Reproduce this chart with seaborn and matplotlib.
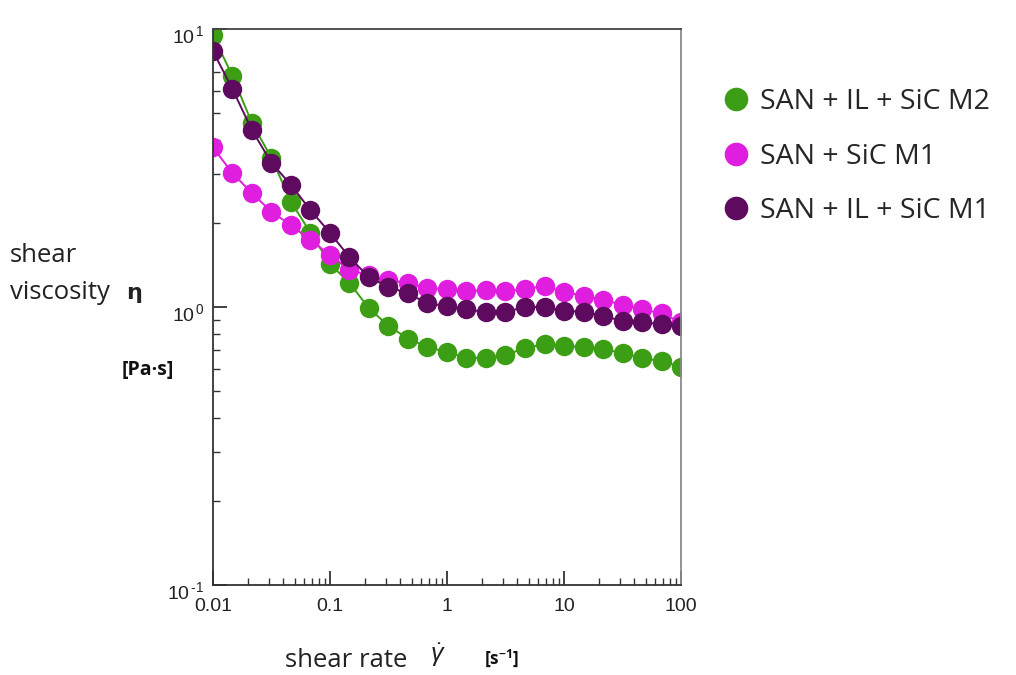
import numpy as np
import pandas as pd
import matplotlib
matplotlib.use("Agg")
import matplotlib.pyplot as plt
import matplotlib.transforms as mtransforms
import seaborn as sns
from matplotlib.lines import Line2D
from matplotlib.ticker import LogLocator, FixedLocator, FixedFormatter, NullFormatter

# ---- data ----
shear_rate = [10 ** (-2 + i / 6) for i in range(25)]

san_il_sic_m2 = [9.5, 6.78, 4.59, 3.44, 2.39, 1.85, 1.43, 1.22, 0.99, 0.855,
                 0.77, 0.718, 0.689, 0.656, 0.656, 0.672, 0.712, 0.736, 0.724,
                 0.718, 0.706, 0.683, 0.656, 0.639, 0.609]
san_sic_m1 = [3.75, 3.03, 2.57, 2.20, 1.97, 1.74, 1.54, 1.36, 1.30, 1.25,
              1.22, 1.17, 1.16, 1.14, 1.15, 1.14, 1.16, 1.19, 1.13, 1.10,
              1.06, 1.02, 0.98, 0.95, 0.88]
san_il_sic_m1 = [8.33, 6.08, 4.33, 3.30, 2.75, 2.23, 1.85, 1.51, 1.28, 1.18,
                 1.12, 1.03, 1.01, 0.98, 0.96, 0.96, 1.0, 1.0, 0.97, 0.96,
                 0.93, 0.89, 0.88, 0.87, 0.855]

series_names = ["SAN + IL + SiC M2", "SAN + SiC M1", "SAN + IL + SiC M1"]
series_values = [san_il_sic_m2, san_sic_m1, san_il_sic_m1]
colors = ["#3c9e14", "#e01ee0", "#5e0a5e"]

x_ticks = [0.01, 0.1, 1, 10, 100]
x_tick_labels = ["0.01", "0.1", "1", "10", "100"]
y_ticks = [0.1, 1, 10]
y_tick_labels = ["$10^{\\,\u2010" + "1}$", r"$10^{\,0}$", r"$10^{\,1}$"]

df = pd.DataFrame({
    "rate": np.tile(shear_rate, len(series_names)),
    "eta": np.concatenate(series_values),
    "series": np.repeat(series_names, len(shear_rate)),
})

sns.set_style("white")
plt.rcParams["font.family"] = ["Liberation Sans", "DejaVu Sans"]
plt.rcParams["mathtext.fontset"] = "custom"
plt.rcParams["mathtext.rm"] = "Liberation Sans"
plt.rcParams["mathtext.it"] = "Liberation Sans:italic"
plt.rcParams["mathtext.bf"] = "Open Sans:bold"
plt.rcParams.update({"xtick.bottom": True, "ytick.left": True})

fig = plt.figure(figsize=(10.16, 6.75), dpi=100)
ax = fig.add_axes([0.2096, 0.1333, 0.4607, 0.8237])

sns.lineplot(data=df, x="rate", y="eta", hue="series", hue_order=series_names,
             palette=colors, marker="o", markersize=14, markeredgewidth=0,
             linewidth=1.4, ax=ax, legend=False, sort=False)

ax.set_xscale("log")
ax.set_yscale("log")
ax.set_xlim(0.01, 100)
ax.set_ylim(0.1, 10)

ax.xaxis.set_major_locator(FixedLocator(x_ticks))
ax.xaxis.set_major_formatter(FixedFormatter(x_tick_labels))
ax.yaxis.set_major_locator(FixedLocator(y_ticks))
ax.yaxis.set_major_formatter(FixedFormatter(y_tick_labels))
ax.xaxis.set_minor_locator(LogLocator(base=10, subs=np.arange(2, 10)))
ax.yaxis.set_minor_locator(LogLocator(base=10, subs=np.arange(2, 10)))
ax.xaxis.set_minor_formatter(NullFormatter())
ax.yaxis.set_minor_formatter(NullFormatter())

ax.tick_params(axis="both", which="minor", bottom=True, left=True, top=False,
               right=False, direction="in", length=5, width=1.0, color="#333333")
ax.tick_params(axis="x", which="major", bottom=True, top=False, direction="in",
               length=10, width=1.3, color="#333333", labelsize=14,
               labelcolor="#222222", pad=9)
ax.tick_params(axis="y", which="major", left=True, right=False, direction="in",
               length=10, width=1.3, color="#333333", labelsize=14,
               labelcolor="#222222", pad=6)

offset = mtransforms.ScaledTranslation(0, -5 / 100, fig.dpi_scale_trans)
for lbl in ax.get_yticklabels():
    lbl.set_transform(lbl.get_transform() + offset)

for side in ["left", "bottom"]:
    ax.spines[side].set_color("#333333")
    ax.spines[side].set_linewidth(1.3)
ax.spines["top"].set_color("#444444")
ax.spines["top"].set_linewidth(1.3)
ax.spines["right"].set_color("#8a8a8a")
ax.spines["right"].set_linewidth(1.3)
ax.set_xlabel("")
ax.set_ylabel("")

# legend
handles = [Line2D([], [], linestyle="none", marker="o", markersize=17,
                  markerfacecolor=c, markeredgewidth=0) for c in colors]
fig.legend(handles, series_names, loc="upper left", bbox_to_anchor=(0.688, 0.907),
           frameon=False, handlelength=0.8, handletextpad=0.45,
           labelspacing=0.93, prop={"family": "Open Sans", "size": 20.5})

# axis titles
lab = dict(family="Open Sans", color="#222222")
fig.text(0.010, 0.622, "shear", fontsize=18.5, va="center", ha="left", **lab)
fig.text(0.010, 0.566, "viscosity", fontsize=18.5, va="center", ha="left", **lab)
fig.text(0.124, 0.566, "η", fontsize=16, va="center", ha="left", fontweight="bold",
         family="DejaVu Sans", color="#222222")
fig.text(0.120, 0.452, "[Pa·s]", fontsize=14, va="center", ha="left",
         fontweight="bold", family="Open Sans", color="#111111")
fig.text(0.281, 0.022, "shear rate", fontsize=18.5, va="center", ha="left", **lab)
fig.text(0.423, 0.030, r"$\dot{\gamma}$", fontsize=18, va="center", ha="left",
         color="#222222")
fig.text(0.476, 0.025, r"[s$^{\mathbf{-1}}$]", fontsize=12.5, va="center", ha="left",
         fontweight="bold", family="Open Sans", color="#111111")

fig.savefig("out.png", dpi=100)
